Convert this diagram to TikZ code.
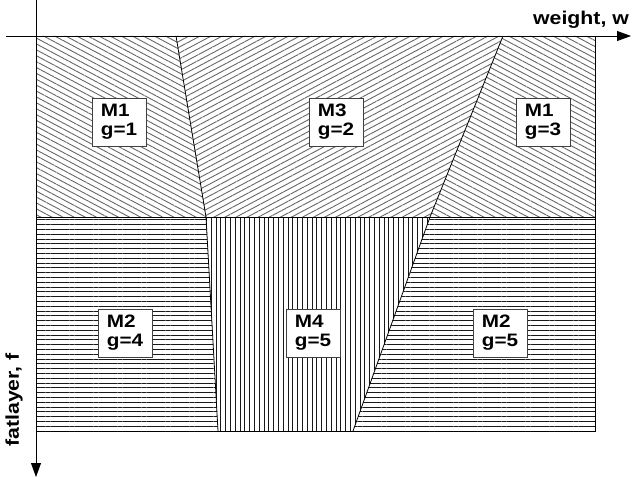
\documentclass[tikz,border=0pt]{standalone}
\usepackage{fontspec}
\usepackage{tikz}
\usetikzlibrary{patterns.meta,arrows.meta}
\newfontfamily\lblfont[FakeStretch=1.15]{Liberation Sans}

\begin{document}
\begin{tikzpicture}[x=1pt,y=-1pt,
  lbl/.style={draw=black!75,fill=white,line width=0.8pt,minimum width=54pt,minimum height=48pt,
    inner sep=0pt,align=left,font=\lblfont\bfseries\fontsize{18}{19}\selectfont},
  axlbl/.style={inner sep=0pt,font=\lblfont\bfseries\fontsize{18.5}{20}\selectfont},
  back/.style={pattern={Lines[angle=-28,distance=5.2pt,line width=0.9pt]},pattern color=black!60},
  fwd/.style={pattern={Lines[angle=28,distance=5.2pt,line width=0.9pt]},pattern color=black!60},
  hor/.style={pattern={Lines[angle=0,distance=4.8pt,line width=1pt]},pattern color=black!90},
  ver/.style={pattern={Lines[angle=90,distance=4.8pt,line width=1pt]},pattern color=black!90}]
\useasboundingbox (0,0) rectangle (632,484);
% corners and boundary points
\coordinate (tl) at (36,36);
\coordinate (tr) at (595,36);
\coordinate (ml) at (36,217);
\coordinate (mr) at (595,217);
\coordinate (bl) at (36,431);
\coordinate (br) at (595,431);
\coordinate (a1) at (176,36);
\coordinate (a2) at (206,217);
\coordinate (a3) at (218,431);
\coordinate (b1) at (503,36);
\coordinate (b2) at (430,217);
\coordinate (b3) at (353,431);
% hatched regions
\fill[back] (tl) -- (a1) -- (a2) -- (ml) -- cycle;
\fill[fwd] (a1) -- (b1) -- (b2) -- (a2) -- cycle;
\fill[back] (b1) -- (tr) -- (mr) -- (b2) -- cycle;
\fill[hor] (ml) -- (a2) -- (a3) -- (bl) -- cycle;
\fill[ver] (a2) -- (b2) -- (b3) -- (a3) -- cycle;
\fill[hor] (b2) -- (mr) -- (br) -- (b3) -- cycle;
% borders
\draw[line width=0.8pt] (tl) rectangle (br);
\draw[line width=0.8pt] (ml) -- (mr);
\draw[line width=0.8pt] (a1) -- (a2) -- (a3);
\draw[line width=0.8pt] (b1) -- (b2) -- (b3);
% axes
\coordinate (xs) at (6,36);
\coordinate (xe) at (631,36);
\coordinate (ys) at (36,0);
\coordinate (ye) at (36,477);
\draw[line width=0.8pt,-{Triangle[width=10pt,length=14pt]}] (xs) -- (xe);
\draw[line width=0.8pt,-{Triangle[width=10pt,length=14pt]}] (ys) -- (ye);
\node[axlbl,anchor=base] (wlab) at (581,25) {weight, w};
\node[axlbl,anchor=base,rotate=90] (flab) at (19,400) {fatlayer, f};
% labels
\node[lbl] (m1a) at (119,122) {M1\\g=1};
\node[lbl] (m3) at (336,122) {M3\\g=2};
\node[lbl] (m1b) at (543,122) {M1\\g=3};
\node[lbl] (m2a) at (125,333) {M2\\g=4};
\node[lbl] (m4) at (313,333) {M4\\g=5};
\node[lbl] (m2b) at (500,333) {M2\\g=5};
\end{tikzpicture}
\end{document}
